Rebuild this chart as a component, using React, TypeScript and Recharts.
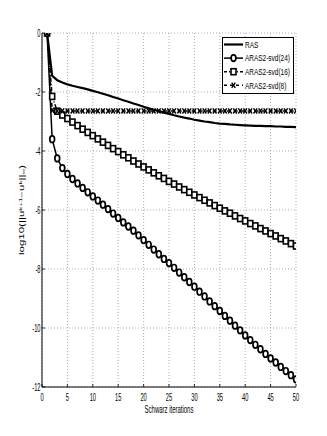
import React from 'react';
import { LineChart, Line, XAxis, YAxis, CartesianGrid, Legend } from 'recharts';

const iterations = [1,2,3,4,5,6,7,8,9,10,11,12,13,14,15,16,17,18,19,20,21,22,23,24,25,26,27,28,29,30,31,32,33,34,35,36,37,38,39,40,41,42,43,44,45,46,47,48,49,50];

const rasValues = [0,-1.45,-1.6,-1.68,-1.74,-1.79,-1.83,-1.87,-1.91,-1.96,-2.01,-2.06,-2.11,-2.17,-2.22,-2.28,-2.33,-2.39,-2.44,-2.5,-2.55,-2.6,-2.65,-2.7,-2.74,-2.79,-2.83,-2.87,-2.9,-2.94,-2.97,-3.0,-3.02,-3.05,-3.07,-3.08,-3.1,-3.11,-3.12,-3.13,-3.14,-3.15,-3.15,-3.16,-3.16,-3.17,-3.17,-3.18,-3.18,-3.19];

const svd24Values = [0,-3.6,-4.25,-4.58,-4.78,-4.95,-5.1,-5.25,-5.4,-5.54,-5.68,-5.82,-5.97,-6.12,-6.27,-6.42,-6.56,-6.7,-6.86,-7.02,-7.18,-7.34,-7.5,-7.66,-7.8,-7.96,-8.12,-8.28,-8.44,-8.6,-8.77,-8.93,-9.1,-9.26,-9.42,-9.59,-9.75,-9.92,-10.08,-10.25,-10.41,-10.57,-10.72,-10.88,-11.03,-11.17,-11.32,-11.46,-11.6,-11.74];

const svd16Values = [0,-2.15,-2.65,-2.78,-2.9,-3.02,-3.14,-3.26,-3.37,-3.48,-3.59,-3.7,-3.81,-3.92,-4.02,-4.13,-4.23,-4.34,-4.44,-4.54,-4.64,-4.74,-4.84,-4.93,-5.03,-5.12,-5.22,-5.31,-5.4,-5.49,-5.58,-5.67,-5.76,-5.85,-5.94,-6.03,-6.11,-6.2,-6.29,-6.37,-6.46,-6.54,-6.63,-6.71,-6.8,-6.88,-6.97,-7.05,-7.14,-7.22];

const svd8Values = [0,-2.62,-2.64,-2.64,-2.64,-2.64,-2.64,-2.64,-2.64,-2.64,-2.64,-2.64,-2.64,-2.64,-2.64,-2.64,-2.64,-2.64,-2.64,-2.64,-2.64,-2.64,-2.64,-2.64,-2.64,-2.64,-2.64,-2.64,-2.64,-2.64,-2.64,-2.64,-2.64,-2.64,-2.64,-2.64,-2.64,-2.64,-2.64,-2.64,-2.64,-2.64,-2.64,-2.64,-2.64,-2.64,-2.64,-2.64,-2.64,-2.64];

const xTicks = [0,5,10,15,20,25,30,35,40,45,50];
const yTicks = [-12,-10,-8,-6,-4,-2,0];
const seriesNames = ['RAS','ARAS2-svd(24)','ARAS2-svd(16)','ARAS2-svd(8)'];
const xLabel = 'Schwarz iterations';

const FONT = "'Liberation Sans', Arial, Helvetica, sans-serif";

const data = iterations.map((it, i) => ({
  it,
  ras: rasValues[i],
  s24: svd24Values[i],
  s16: svd16Values[i],
  s8: svd8Values[i],
}));

const CircleMark = ({ cx, cy }: any) => (
  <ellipse cx={cx} cy={cy} rx={2.4} ry={3.3} fill="white" stroke="black" strokeWidth={1.7} />
);
const SquareMark = ({ cx, cy }: any) => (
  <rect x={cx - 2.5} y={cy - 3} width={5} height={6} fill="white" stroke="black" strokeWidth={1.6} />
);
const XMark = ({ cx, cy }: any) => (
  <path
    d={`M${cx - 1.8},${cy - 2.6}L${cx + 1.8},${cy + 2.6}M${cx - 1.8},${cy + 2.6}L${cx + 1.8},${cy - 2.6}`}
    fill="none"
    stroke="black"
    strokeWidth={1.4}
    strokeDasharray="none"
  />
);

const mkDot = (Comp: any) => (props: any) => {
  const k = props.key ?? `d${props.index}`;
  if (props.cx == null || props.cy == null) return <g key={k} />;
  return <Comp key={k} cx={props.cx} cy={props.cy} />;
};

const NText = ({ x, y, sx, anchor, size, children }: any) => (
  <text
    transform={`translate(${x},${y}) scale(${sx},1)`}
    x={0}
    y={0}
    textAnchor={anchor}
    fontSize={size}
    fontFamily={FONT}
    fill="black"
  >
    {children}
  </text>
);

const XTick = (props: any) => {
  const { x, y, payload } = props;
  return (
    <g>
      <line x1={x} y1={y} x2={x} y2={y - 3} stroke="black" strokeWidth={0.8} />
      <NText x={x} y={y + 13.5} sx={0.52} anchor="middle" size={11}>
        {payload.value}
      </NText>
    </g>
  );
};

const YTick = (props: any) => {
  const { x, y, payload } = props;
  return (
    <g>
      <line x1={x} y1={y} x2={x + 3} y2={y} stroke="black" strokeWidth={0.8} />
      <NText x={x - 1.5} y={y + 4} sx={0.52} anchor="end" size={11}>
        {payload.value}
      </NText>
    </g>
  );
};

const XLabel = (props: any) => {
  const vb = props.viewBox || {};
  return (
    <NText x={vb.x + vb.width / 2} y={vb.y + 26} sx={0.57} anchor="middle" size={10.5}>
      {xLabel}
    </NText>
  );
};

const YLabel = (props: any) => {
  const vb = props.viewBox || {};
  const cx = vb.x + 24;
  const cy = vb.y + vb.height / 2;
  return (
    <text
      transform={`translate(${cx},${cy}) scale(0.55,1) rotate(-90)`}
      x={0}
      y={0}
      textAnchor="middle"
      fontSize={11.5}
      fontFamily={FONT}
      fill="black"
    >
      log10(||u
      <tspan dy={-4.5} fontSize={8}>k+1</tspan>
      <tspan dy={4.5}>−u</tspan>
      <tspan dy={-4.5} fontSize={8}>k</tspan>
      <tspan dy={4.5}>||</tspan>
      <tspan dy={2.5} fontSize={8}>∞</tspan>
      <tspan dy={-2.5}>)</tspan>
    </text>
  );
};

const LegendBox = () => {
  const rowH = 13.6;
  return (
    <svg width={72} height={57} style={{ display: 'block' }}>
      <rect x={0.5} y={0.5} width={71} height={56} fill="white" stroke="black" strokeWidth={1} />
      {seriesNames.map((n, i) => {
        const cy = 7.5 + i * rowH;
        return (
          <g key={n}>
            {i === 0 && <line x1={2} y1={cy} x2={21} y2={cy} stroke="black" strokeWidth={2.2} />}
            {i === 1 && (
              <>
                <line x1={2} y1={cy} x2={21} y2={cy} stroke="black" strokeWidth={1.5} />
                <CircleMark cx={11.5} cy={cy} />
              </>
            )}
            {i === 2 && (
              <>
                <line x1={2} y1={cy} x2={21} y2={cy} stroke="black" strokeWidth={1.5} strokeDasharray="3 2 1 2" />
                <SquareMark cx={11.5} cy={cy} />
              </>
            )}
            {i === 3 && (
              <>
                <line x1={2} y1={cy} x2={21} y2={cy} stroke="black" strokeWidth={1.5} strokeDasharray="3 3" />
                <XMark cx={11.5} cy={cy} />
              </>
            )}
            <NText x={23} y={cy + 3.3} sx={0.72} anchor="start" size={9}>
              {n}
            </NText>
          </g>
        );
      })}
    </svg>
  );
};

export default function App() {
  return (
    <div style={{ position: 'absolute', left: 0, top: 0, width: 327, height: 436, background: 'white' }}>
      <LineChart
        width={327}
        height={436}
        data={data}
        margin={{ top: 33, right: 31, bottom: 0, left: 0 }}
      >
        <CartesianGrid stroke="#999" strokeDasharray="1 2" strokeWidth={0.8} />
        <XAxis
          type="number"
          dataKey="it"
          domain={[0, 50]}
          ticks={xTicks}
          height={49}
          tickSize={0}
          tickMargin={0}
          tickLine={false}
          axisLine={{ stroke: 'black', strokeWidth: 1 }}
          tick={<XTick />}
          interval={0}
          allowDataOverflow
          label={<XLabel />}
        />
        <YAxis
          type="number"
          domain={[-12, 0]}
          ticks={yTicks}
          width={42}
          tickSize={0}
          tickMargin={0}
          tickLine={false}
          axisLine={{ stroke: 'black', strokeWidth: 1 }}
          tick={<YTick />}
          interval={0}
          allowDataOverflow
          label={<YLabel />}
        />
        <Legend
          layout="vertical"
          align="center"
          verticalAlign="middle"
          content={<LegendBox />}
          wrapperStyle={{ left: 222, top: 37, width: 72, height: 57 }}
        />
        <Line dataKey="ras" stroke="black" strokeWidth={2.2} dot={false} isAnimationActive={false} />
        <Line dataKey="s24" stroke="black" strokeWidth={1.5} dot={mkDot(CircleMark)} isAnimationActive={false} />
        <Line dataKey="s16" stroke="black" strokeWidth={1.5} strokeDasharray="4 2 1 2" dot={mkDot(SquareMark)} isAnimationActive={false} />
        <Line dataKey="s8" stroke="black" strokeWidth={1.5} strokeDasharray="4 3" dot={mkDot(XMark)} isAnimationActive={false} />
      </LineChart>
    </div>
  );
}
